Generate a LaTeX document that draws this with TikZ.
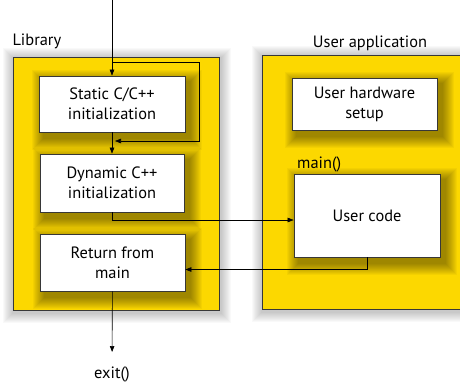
\documentclass[tikz,border=0pt]{standalone}
\usepackage{fontspec}
\setmainfont{PT Sans}
\usetikzlibrary{positioning, arrows.meta}
\definecolor{panelyellow}{RGB}{252,216,0}
\definecolor{boxline}{RGB}{55,55,55}
\pgfdeclarelayer{backdrop}
\pgfdeclarelayer{panels}
\pgfdeclarelayer{shade}
\pgfsetlayers{backdrop,panels,shade,main}

\begin{document}
\begin{tikzpicture}[
					x=1bp, y=-1bp,
					font=\fontsize{16.4bp}{20bp}\selectfont,
					panel/.style={draw=boxline, line width=0.7bp, fill=panelyellow, anchor=north west, inner sep=0pt},
					stepbox/.style={draw=boxline, line width=0.7bp, fill=white, align=center, inner sep=2bp},
					flow/.style={-{Triangle[length=6bp,width=4.5bp]}, line width=0.6bp}
					]
					\useasboundingbox (0,0) rectangle (460,383);
					\begin{pgfonlayer}{panels}
						\node[panel, minimum width=206bp, minimum height=253bp] (library) at (13,57) {};
						\node[panel, minimum width=210bp, minimum height=254bp] (userapp) at (262,55) {};
					\end{pgfonlayer}
					\node[anchor=base west] (liblabel) at (9,45) {Library};
					\node[anchor=base] (applabel) at (370,47) {User application};
					\node[anchor=base west, inner sep=1bp] (mainlabel) at (296,168) {main()};
					\node[stepbox, minimum width=146bp, minimum height=56bp] (static) at (112,104) {Static C/C++\\initialization};
					\node[stepbox, minimum width=144bp, minimum height=58bp] (dynamic) at (112,183) {Dynamic C++\\initialization};
					\node[stepbox, minimum width=145bp, minimum height=57bp] (return) at (112.5,262.5) {Return from\\main};
					\node[stepbox, minimum width=145bp, minimum height=52bp] (hardware) at (364.5,104) {User hardware\\setup};
					\node[stepbox, minimum width=146bp, minimum height=83bp] (usercode) at (367,215.5) {User code};
					\node[anchor=north, inner ysep=15bp] (exit) at (112,352) {exit()};
					\begin{pgfonlayer}{backdrop}
						\foreach \p in {library,userapp}
							\foreach \s in {1,...,10}
								\fill[black, opacity=0.025] ([xshift={-\s bp}, yshift={\s bp-1bp}]\p.north west) rectangle ([xshift={\s bp+1bp}, yshift={-\s bp-2bp}]\p.south east);
					\end{pgfonlayer}
					\begin{pgfonlayer}{shade}
						\foreach \b in {static,dynamic,return,hardware,usercode}
							\foreach \s in {1,...,12}
								\fill[black, opacity=0.035] ([xshift={5bp-\s bp}, yshift={\s bp-6bp}]\b.north west) rectangle ([xshift={5bp+\s bp}, yshift={-6bp-\s bp}]\b.south east);
					\end{pgfonlayer}
					\coordinate (entry) at (112,0);
					\coordinate (loopstart) at (112,62);
					\coordinate (looptop) at (199,62);
					\coordinate (loopback) at (115,141);
					\draw[flow] (entry) -- (static);
					\draw[line width=0.6bp] (loopstart) -- (looptop);
					\draw[flow] (looptop) |- (loopback);
					\draw[flow] (static) -- (dynamic);
					\draw[flow] (dynamic.south) |- ([yshift=-4.5bp]usercode.west);
					\draw[flow] (usercode.south) |- ([yshift=-7bp]return.east);
					\draw[flow] (return) -- (exit);
				\end{tikzpicture}
\end{document}
